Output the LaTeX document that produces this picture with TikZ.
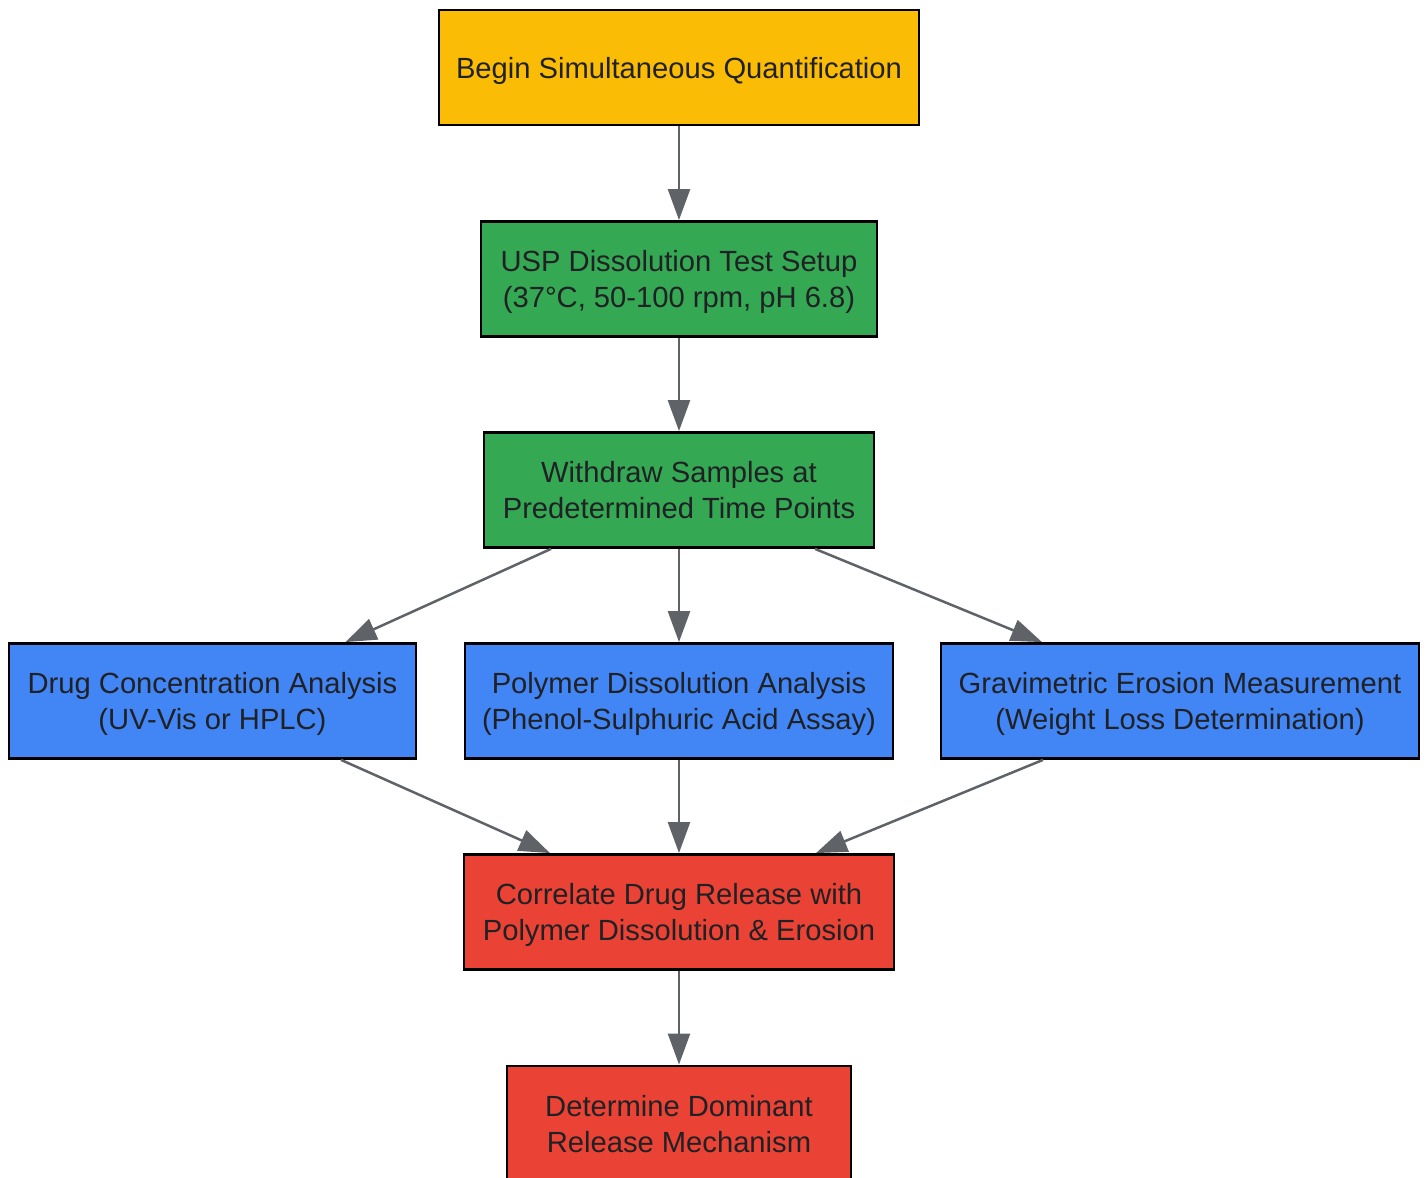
\documentclass[tikz,border=0pt]{standalone}
\usepackage{fontspec}
\setmainfont{Liberation Sans}
\usepackage{tikz}
\usetikzlibrary{arrows.meta}
\definecolor{gyellow}{HTML}{FBBC05}
\definecolor{ggreen}{HTML}{34A853}
\definecolor{gblue}{HTML}{4285F4}
\definecolor{gred}{HTML}{EA4335}
\definecolor{edgegray}{HTML}{5F6368}
\definecolor{txtgray}{HTML}{202124}
\tikzset{
  stepbox/.style  = {draw=black,line width=0.028cm,minimum height=1.15cm,inner sep=0pt,
                     text depth=0pt,align=center,text=txtgray,
                     font=\fontsize{8.3}{10.24}\selectfont},
  flowarr/.style  = {-{Triangle[length=3.1mm,width=2.2mm]},edgegray,line width=0.025cm}
}

\begin{document}
\begin{tikzpicture}
  \useasboundingbox (0,0) rectangle (14.28,11.78);
  \node[stepbox,fill=gyellow,minimum width=4.80cm] (begin)    at (6.79,11.105) {Begin Simultaneous Quantification};
  \node[stepbox,fill=ggreen,minimum width=3.96cm]  (setup)    at (6.79,8.99)   {USP Dissolution Test Setup\\(37°C, 50-100 rpm, pH 6.8)};
  \node[stepbox,fill=ggreen,minimum width=3.90cm]  (withdraw) at (6.79,6.88)   {Withdraw Samples at\\Predetermined Time Points};
  \node[stepbox,fill=gblue,minimum width=4.07cm]   (drug)     at (2.125,4.77)  {Drug Concentration Analysis\\(UV-Vis or HPLC)};
  \node[stepbox,fill=gblue,minimum width=4.28cm]   (polymer)  at (6.79,4.77)   {Polymer Dissolution Analysis\\(Phenol-Sulphuric Acid Assay)};
  \node[stepbox,fill=gblue,minimum width=4.78cm]   (grav)     at (11.80,4.77)  {Gravimetric Erosion Measurement\\(Weight Loss Determination)};
  \node[stepbox,fill=gred,minimum width=4.30cm]    (correl)   at (6.79,2.66)   {Correlate Drug Release with\\Polymer Dissolution \& Erosion};
  \node[stepbox,fill=gred,minimum width=3.44cm]    (mechan)   at (6.79,0.545)  {Determine Dominant\\Release Mechanism};

  \draw[flowarr] (begin) -- (setup);
  \draw[flowarr] (setup) -- (withdraw);
  \draw[flowarr] ([xshift=-1.28cm]withdraw.south) -- ([xshift=1.33cm]drug.north);
  \draw[flowarr] (withdraw) -- (polymer);
  \draw[flowarr] ([xshift=1.36cm]withdraw.south) -- ([xshift=-1.38cm]grav.north);
  \draw[flowarr] ([xshift=1.285cm]drug.south) -- ([xshift=-1.29cm]correl.north);
  \draw[flowarr] (polymer) -- (correl);
  \draw[flowarr] ([xshift=-1.37cm]grav.south) -- ([xshift=1.37cm]correl.north);
  \draw[flowarr] (correl) -- (mechan);
\end{tikzpicture}
\end{document}
